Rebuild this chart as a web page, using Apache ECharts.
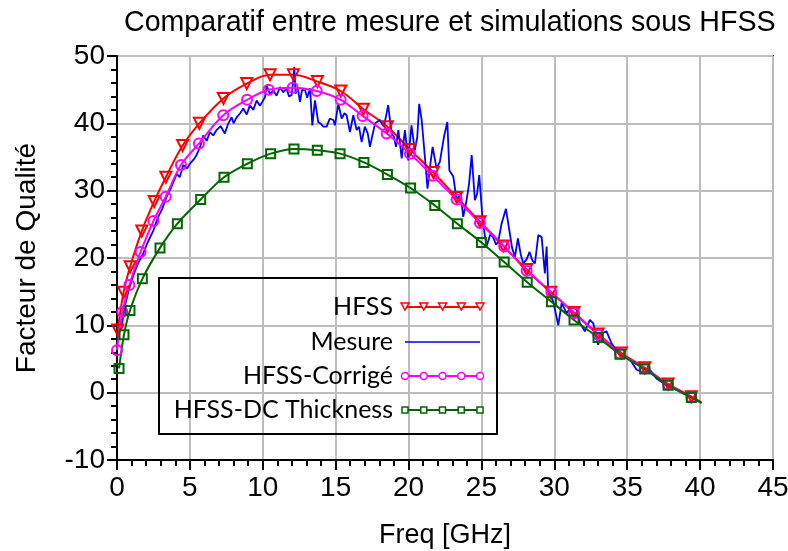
<!DOCTYPE html>
<html>
<head>
<meta charset="utf-8">
<script src="https://cdn.jsdelivr.net/npm/echarts@6/dist/echarts.min.js"></script>
<style>html,body{margin:0;padding:0;background:#fff}#c{width:788px;height:551px}</style>
</head>
<body>
<div id="c"></div>
<script>
// ---- data ----
const xTicks = [0, 5, 10, 15, 20, 25, 30, 35, 40, 45];
const yTicks = [-10, 0, 10, 20, 30, 40, 50];
const seriesNames = ['HFSS', 'Mesure', 'HFSS-Corrigé', 'HFSS-DC Thickness'];

const hfss = [[0.05,9.3],[0.45,14.9],[0.9,18.7],[1.7,24.0],[2.55,28.4],[3.35,32.0],[4.5,36.7],[5.65,40.0],[7.3,43.7],[8.9,45.9],[10.5,47.2],[12.1,47.2],[13.75,46.2],[15.35,44.8],[16.9,42.1],[18.55,39.5],[20.1,36.1],[21.7,32.7],[23.3,29.0],[24.9,25.4],[26.5,21.8],[28.1,18.3],[29.75,14.9],[31.35,11.9],[33.0,8.7],[34.6,5.9],[36.2,3.7],[37.8,1.3],[39.4,-0.6],[40.1,-1.5]];

const corrige = [[0,6.3],[0.37,12.0],[0.85,16.0],[1.62,20.9],[2.5,25.5],[3.34,29.1],[4.39,33.8],[5.62,37.0],[7.29,41.2],[8.92,43.5],[10.4,45.0],[12.05,45.3],[13.7,44.8],[15.34,43.5],[16.85,41.1],[18.5,38.5],[20.1,35.5],[21.65,32.2],[23.3,28.7],[24.9,25.2],[26.56,21.7],[28.1,18.1],[29.8,14.9],[31.35,11.8],[33.0,8.6],[34.5,5.8],[36.2,3.6],[37.8,1.2],[39.4,-0.7],[40.1,-1.5]];

const dcThick = [[0.14,3.6],[0.48,8.6],[0.89,12.2],[1.74,16.9],[2.95,21.5],[4.14,25.1],[5.74,28.7],[7.34,32.0],[8.94,34.0],[10.54,35.5],[12.14,36.2],[13.74,36.0],[15.3,35.5],[16.94,34.2],[18.55,32.4],[20.14,30.4],[21.8,27.8],[23.35,25.1],[25.0,22.3],[26.56,19.4],[28.14,16.4],[29.8,13.5],[31.35,10.8],[33.0,8.2],[34.5,5.7],[36.2,3.5],[37.8,1.1],[39.4,-0.7],[40.1,-1.5]];

const mesure = [[0.3,9.5],[0.5,12.5],[0.8,15.2],[1.1,17.3],[1.4,19.0],[1.8,20.7],[2.1,22.3],[2.5,24.1],[2.8,26.0],[3.1,27.3],[3.4,29.1],[3.7,30.4],[4.1,32.5],[4.3,32.0],[4.55,33.8],[4.8,33.3],[5.0,34.0],[5.25,34.6],[5.46,35.3],[5.7,36.5],[5.92,38.2],[6.15,37.4],[6.38,38.7],[6.6,38.2],[6.83,39.0],[7.1,39.6],[7.4,38.5],[7.6,39.8],[7.86,40.9],[8.0,40.0],[8.2,40.9],[8.45,41.5],[8.66,42.2],[8.9,41.3],[9.12,42.7],[9.35,42.0],[9.58,43.4],[9.8,42.6],[10.0,43.3],[10.15,43.9],[10.26,45.6],[10.5,44.3],[10.72,44.9],[10.95,44.1],[11.18,45.4],[11.4,44.6],[11.63,45.2],[11.8,44.0],[11.98,44.2],[12.1,46.5],[12.16,48.4],[12.25,44.4],[12.4,45.3],[12.55,43.2],[12.7,45.0],[12.9,44.9],[13.05,43.8],[13.24,45.2],[13.4,39.7],[13.58,43.4],[13.8,40.2],[14.0,39.9],[14.15,39.5],[14.38,39.5],[14.6,40.7],[14.84,40.5],[14.95,39.7],[15.18,42.9],[15.41,40.7],[15.6,41.5],[15.75,41.2],[15.98,38.7],[16.21,41.2],[16.44,39.0],[16.6,39.5],[16.78,37.2],[17.0,39.5],[17.2,38.5],[17.35,36.5],[17.5,38.0],[17.7,40.0],[18.04,40.5],[18.3,39.5],[18.45,41.0],[18.6,42.7],[18.84,38.5],[19.0,38.0],[19.14,36.5],[19.3,39.0],[19.53,34.8],[19.75,39.0],[19.98,34.5],[20.2,39.7],[20.43,36.0],[20.6,38.0],[20.73,42.9],[20.9,40.5],[21.12,35.0],[21.3,30.3],[21.5,34.0],[21.65,36.5],[21.92,33.3],[22.15,34.3],[22.43,38.0],[22.66,40.2],[22.8,33.0],[23.07,32.1],[23.3,28.6],[23.57,29.6],[23.75,26.1],[23.98,28.6],[24.15,31.0],[24.33,35.3],[24.55,28.6],[24.7,29.5],[24.85,32.3],[25.08,25.6],[25.35,21.7],[25.6,23.5],[25.8,23.1],[26.0,22.0],[26.15,22.4],[26.38,25.1],[26.68,27.3],[26.95,23.6],[27.1,21.5],[27.3,20.2],[27.5,22.9],[27.7,20.5],[27.87,19.2],[28.1,19.8],[28.3,20.9],[28.5,19.6],[28.67,19.2],[28.9,23.4],[29.13,23.1],[29.35,17.7],[29.47,21.7],[29.58,15.2],[29.93,13.5],[30.27,10.0],[30.5,13.3],[30.84,11.8],[31.18,12.8],[31.53,12.3],[31.76,10.3],[32.1,9.1],[32.44,10.8],[32.67,10.3],[33.0,7.1],[33.24,8.8],[33.58,9.1],[33.93,7.3],[34.2,6.5],[34.5,5.6],[34.85,5.3],[35.2,4.9],[35.64,3.4],[36.2,2.9],[36.56,3.4],[37.0,2.1],[37.7,1.1],[38.4,0.4],[39.3,-0.6],[39.75,-1.1],[40.0,-1.3]];

// ---- styles ----
const COLORS = ['#ff0000', '#0000ff', '#ff00ff', '#006600'];
const FONT = 'Liberation Sans, Arial, sans-serif';
const LEG_FONT = 'Lato, Carlito, Calibri, sans-serif';

function withEnd(arr) {
  // last point closes the line at 40 GHz without a marker
  return arr.map((p, i) => i === arr.length - 1 ? { value: p, symbol: 'none' } : p);
}

const chart = echarts.init(document.getElementById('c'), null, { renderer: 'canvas' });

const G = { left: 117, right: 15, top: 56, bottom: 91 };

function markerSeries(name, data, color, symbol, size, rotate) {
  return {
    name, type: 'line', data: withEnd(data), smooth: 0.35,
    symbol, symbolSize: size, symbolRotate: rotate || 0,
    showAllSymbol: true,
    lineStyle: { color, width: 2 },
    itemStyle: { color: 'rgba(255,255,255,0)', borderColor: color, borderWidth: 2 },
    emphasis: { disabled: true }, animation: false
  };
}

// legend drawn as graphic
const legX0 = 159, legY0 = 278, legW = 338, legH = 156;
const rowY = [307, 342, 376, 410];
const textRight = 393, lineX0 = 405, lineX1 = 480;
const legSym = [
  { type: 'triangle' },
  null,
  { type: 'circle' },
  { type: 'rect' }
];
const graphic = [{
  type: 'rect', shape: { x: legX0, y: legY0, width: legW, height: legH },
  style: { fill: 'rgba(0,0,0,0)', stroke: '#000', lineWidth: 2 }, z: 100
}];
seriesNames.forEach((n, i) => {
  graphic.push({
    type: 'text', x: textRight, y: rowY[i], z: 100,
    style: { text: n, font: '25px ' + LEG_FONT, fill: '#000', align: 'right', verticalAlign: 'middle' }
  });
  graphic.push({
    type: 'line', z: 100, shape: { x1: lineX0, y1: rowY[i], x2: lineX1, y2: rowY[i] },
    style: { stroke: COLORS[i], lineWidth: i === 1 ? 1.5 : 2 }
  });
  if (legSym[i]) {
    for (let k = 0; k < 5; k++) {
      const cx = lineX0 + k * (lineX1 - lineX0) / 4;
      let el;
      if (legSym[i].type === 'circle') {
        el = { type: 'circle', shape: { cx, cy: rowY[i], r: 3.5 } };
      } else if (legSym[i].type === 'rect') {
        el = { type: 'rect', shape: { x: cx - 3, y: rowY[i] - 3, width: 6, height: 6 } };
      } else {
        el = { type: 'polygon', shape: { points: [[cx - 4, rowY[i] - 4], [cx + 4, rowY[i] - 4], [cx, rowY[i] + 3]] } };
      }
      el.z = 101;
      el.style = { fill: '#fff', stroke: COLORS[i], lineWidth: 1.5 };
      graphic.push(el);
    }
  }
});

const option = {
  backgroundColor: '#fff',
  animation: false,
  title: {
    text: 'Comparatif entre mesure et simulations sous HFSS',
    left: 119, top: 4,
    textStyle: { fontFamily: FONT, fontSize: 28.6, fontWeight: 'normal', color: '#000' }
  },
  grid: { left: G.left, right: G.right, top: G.top, bottom: G.bottom, show: true, borderColor: '#000', borderWidth: 2, backgroundColor: 'transparent', containLabel: false, outerBoundsMode: 'none' },
  xAxis: {
    type: 'value', min: xTicks[0], max: xTicks[xTicks.length - 1], interval: 5,
    name: 'Freq [GHz]', nameLocation: 'middle', nameGap: 62,
    nameTextStyle: { fontFamily: FONT, fontSize: 27, color: '#000' },
    axisLine: { show: true, onZero: false, lineStyle: { color: '#000', width: 2 } },
    axisTick: { show: true, inside: false, length: 10, lineStyle: { color: '#000', width: 2 } },
    minorTick: { show: true, splitNumber: 5, length: 6, lineStyle: { color: '#000', width: 2 } },
    axisLabel: { fontFamily: FONT, fontSize: 28, color: '#000', margin: 14, showMaxLabel: true },
    splitLine: { show: true, lineStyle: { color: '#bdbdbd', width: 2 } }
  },
  yAxis: {
    type: 'value', min: yTicks[0], max: yTicks[yTicks.length - 1], interval: 10,
    name: 'Facteur de Qualité', nameLocation: 'middle', nameGap: 76, nameRotate: 90,
    nameTextStyle: { fontFamily: FONT, fontSize: 28, color: '#000' },
    axisLine: { show: true, onZero: false, lineStyle: { color: '#000', width: 2 } },
    axisTick: { show: true, inside: false, length: 10, lineStyle: { color: '#000', width: 2 } },
    minorTick: { show: true, splitNumber: 5, length: 6, lineStyle: { color: '#000', width: 2 } },
    axisLabel: { fontFamily: FONT, fontSize: 28, color: '#000', margin: 12 },
    splitLine: { show: true, lineStyle: { color: '#bdbdbd', width: 2 } }
  },
  series: [
    markerSeries(seriesNames[0], hfss, COLORS[0], 'triangle', 11, 180),
    {
      name: seriesNames[1], type: 'line', data: mesure, showSymbol: false, smooth: false,
      lineStyle: { color: COLORS[1], width: 1.8 }, emphasis: { disabled: true }, animation: false
    },
    markerSeries(seriesNames[2], corrige, COLORS[2], 'circle', 10),
    markerSeries(seriesNames[3], dcThick, COLORS[3], 'rect', 9)
  ],
  graphic
};
chart.setOption(option);
</script>
</body>
</html>
